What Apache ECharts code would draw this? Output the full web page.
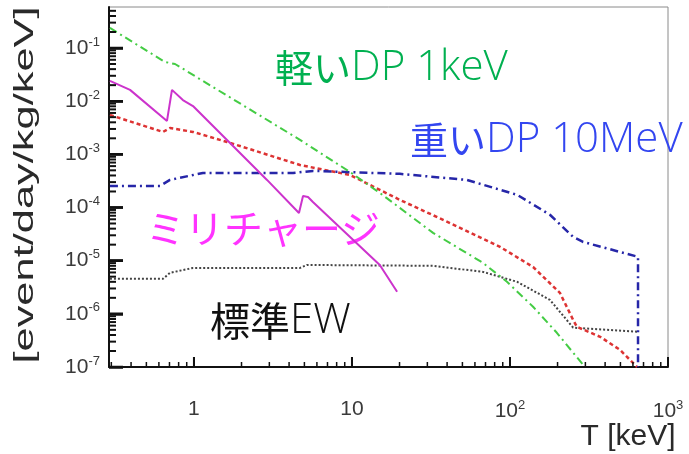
<!DOCTYPE html>
<html>
<head>
<meta charset="utf-8">
<script src="https://cdn.jsdelivr.net/npm/echarts@6/dist/echarts.min.js"></script>
<style>
  html, body { margin: 0; padding: 0; background: #ffffff; }
  #chart { width: 689px; height: 454px; }
</style>
</head>
<body>
<div id="chart"></div>
<script>
// Recoil spectra, T [keV] vs rate [event/day/kg/keV]
const lightDP_T = [0.294, 0.655, 0.759, 4.69, 9.70, 15.0, 32.6, 67.5, 95.7, 140, 198, 290];
const lightDP_R = [0.238, 0.0546, 0.050, 1.87e-3, 4.67e-4, 1.88e-4, 3.33e-5, 9.1e-6, 4.0e-6, 1.36e-6, 4.4e-7, 1.1e-7];

const redCurve_T = [0.294, 0.637, 0.705, 0.986, 1.62, 4.69, 9.70, 20.1, 41.7, 86.5, 140, 207, 251, 265, 372, 497, 637];
const redCurve_R = [5.5e-3, 2.64e-3, 3.13e-3, 2.64e-3, 1.71e-3, 6.3e-4, 4.1e-4, 1.39e-4, 5.1e-5, 1.82e-5, 7.6e-6, 2.48e-6, 7.7e-7, 5.7e-7, 3.7e-7, 2.1e-7, 1.0e-7];

const heavyDP_T = [0.294, 0.61, 0.705, 1.14, 4.24, 5.66, 20.1, 53.5, 111, 179, 251, 290, 646, 646];
const heavyDP_R = [2.55e-4, 2.55e-4, 3.3e-4, 4.47e-4, 4.47e-4, 4.88e-4, 4.29e-4, 3.3e-4, 1.73e-4, 7.3e-5, 2.8e-5, 2.25e-5, 1.18e-5, 1e-7];

const standardEW_T = [0.294, 0.637, 0.705, 0.986, 4.69, 5.19, 32.6, 67.5, 111, 179, 251, 646];
const standardEW_R = [4.55e-6, 4.55e-6, 5.9e-6, 7.3e-6, 7.3e-6, 8.3e-6, 8.0e-6, 6.15e-6, 4.0e-6, 1.83e-6, 5.5e-7, 4.6e-7];

const milliCharge_T = [0.294, 0.394, 0.675, 0.726, 0.851, 0.986, 2.90, 4.62, 4.90, 5.27, 5.66, 15.0, 19.3];
const milliCharge_R = [0.024, 0.0163, 4.25e-3, 0.0163, 0.0105, 8.1e-3, 3.3e-4, 7.9e-5, 1.65e-4, 1.58e-4, 1.27e-4, 8.3e-6, 2.6e-6];

// axis ranges and decade tick positions (as exponents)
const xRange = [0.29, 1000];
const yRange = [1e-7, 0.59];
const xDecades = [0, 1, 2, 3];          // 1, 10, 10^2, 10^3
const yDecades = [-7, -6, -5, -4, -3, -2, -1];

const lg = Math.log10;
const pairs = (T, R) => T.map((t, i) => [lg(t), lg(R[i])]);

// 2..9 sub-decade positions inside (lo, hi)
function minorTicks(lo, hi) {
  const out = [];
  for (let d = Math.floor(lo) - 1; d <= Math.ceil(hi); d++) {
    for (let k = 2; k <= 9; k++) {
      const v = d + lg(k);
      if (v > lo && v < hi) out.push(v);
    }
  }
  return out;
}

const xLo = lg(xRange[0]), xHi = lg(xRange[1]);
const yLo = lg(yRange[0]), yHi = lg(yRange[1]);

const GRID = { left: 109, top: 7, width: 559, height: 360 };
const xPerPx = (xHi - xLo) / GRID.width;
const yPerPx = (yHi - yLo) / GRID.height;

// inward tick marks: one short segment per tick
function tickSeries(values, dir, lenPx, width) {
  return values.map(v => ({
    type: 'line', showSymbol: false,
    lineStyle: { color: '#111111', width: width },
    data: dir === 'x'
      ? [[v, yLo], [v, yLo + lenPx * yPerPx]]
      : [[xLo, v], [xLo + lenPx * xPerPx, v]]
  }));
}

const labelFont = 'Liberation Sans, Arial, sans-serif';
const labelRich = {
  b: { fontSize: 21, color: '#3a3a3a', fontFamily: labelFont },
  s: { fontSize: 13, color: '#3a3a3a', fontFamily: labelFont, padding: [0, 0, 12, 0] }
};

const cjkFont = '"Noto Sans CJK JP"';
const latinFont = '"Open Sans"';

const chart = echarts.init(document.getElementById('chart'), null, { renderer: 'canvas' });

chart.setOption({
  animation: false,
  backgroundColor: '#ffffff',
  grid: Object.assign({ show: true, borderColor: '#8a8a8a', borderWidth: 1 }, GRID),
  xAxis: {
    type: 'value', min: xLo, max: xHi, position: 'bottom',
    splitLine: { show: false },
    axisLine: { show: true, onZero: false, lineStyle: { color: '#111', width: 2 } },
    axisTick: { show: true, inside: true, length: 10, customValues: xDecades, lineStyle: { color: '#111', width: 2 } },
    axisLabel: {
      show: true, margin: 32, customValues: xDecades, rich: labelRich,
      formatter: v => {
        const e = Math.round(v);
        if (e === 0) return '{b|1}';
        if (e === 1) return '{b|10}';
        return '{b|10}{s|' + e + '}';
      }
    }
  },
  yAxis: {
    type: 'value', min: yLo, max: yHi, position: 'left',
    splitLine: { show: false },
    axisLine: { show: true, onZero: false, lineStyle: { color: '#111', width: 2 } },
    axisTick: { show: true, inside: true, length: 14, customValues: yDecades, lineStyle: { color: '#111', width: 2.5 } },
    axisLabel: {
      show: true, margin: 9, customValues: yDecades, rich: labelRich,
      formatter: v => '{b|10}{s|' + Math.round(v) + '}'
    }
  },
  series: [
    {
      name: '標準EW', type: 'line', showSymbol: false, data: pairs(standardEW_T, standardEW_R),
      lineStyle: { color: '#444444', width: 2, type: [2, 2] }
    },
    {
      name: 'red', type: 'line', showSymbol: false, data: pairs(redCurve_T, redCurve_R),
      lineStyle: { color: '#dd3333', width: 2.5, type: [4, 3] }
    },
    {
      name: '重いDP 10MeV', type: 'line', showSymbol: false, data: pairs(heavyDP_T, heavyDP_R),
      lineStyle: { color: '#2626a8', width: 2.5, type: [8, 4, 2, 4] }
    },
    {
      name: '軽いDP 1keV', type: 'line', showSymbol: false, data: pairs(lightDP_T, lightDP_R),
      lineStyle: { color: '#44cc44', width: 2, type: [8, 4, 2, 4] }
    },
    {
      name: 'ミリチャージ', type: 'line', showSymbol: false, data: pairs(milliCharge_T, milliCharge_R),
      lineStyle: { color: '#cc33cc', width: 2 }
    }
  ].concat(
    tickSeries(xDecades, 'x', 10, 2),
    tickSeries(minorTicks(xLo, xHi), 'x', 5, 1.5),
    tickSeries(yDecades, 'y', 14, 2.5),
    tickSeries(minorTicks(yLo, yHi), 'y', 7, 2)
  ),
  graphic: [
    {
      type: 'text', x: 25, y: 185, rotation: Math.PI / 2, scaleX: 1.55,
      style: {
        text: '[event/day/kg/keV]', fontSize: 28, fill: '#2a2a2a',
        fontFamily: labelFont, align: 'center', verticalAlign: 'middle'
      }
    },
    {
      type: 'text', x: 628, y: 437,
      style: {
        text: 'T [keV]', fontSize: 30, fill: '#2a2a2a',
        fontFamily: labelFont, align: 'center', verticalAlign: 'middle'
      }
    },
    {
      type: 'text', x: 275, y: 68,
      style: {
        text: '{c|軽い}{l|DP 1keV}', fill: '#00b050', align: 'left', verticalAlign: 'middle',
        rich: {
          c: { fontSize: 38, fontFamily: cjkFont, fill: '#00b050' },
          l: { fontSize: 42, fontFamily: latinFont, fontWeight: 300, fill: '#00b050' }
        }
      }
    },
    {
      type: 'text', x: 410, y: 140,
      style: {
        text: '{c|重い}{l|DP 10MeV}', fill: '#3346f0', align: 'left', verticalAlign: 'middle',
        rich: {
          c: { fontSize: 38, fontFamily: cjkFont, fill: '#3346f0' },
          l: { fontSize: 42, fontFamily: latinFont, fontWeight: 300, fill: '#3346f0' }
        }
      }
    },
    {
      type: 'text', x: 146, y: 228,
      style: { text: 'ミリチャージ', fontSize: 39, fill: '#ff33ff', fontFamily: cjkFont, align: 'left', verticalAlign: 'middle' }
    },
    {
      type: 'text', x: 210, y: 321,
      style: {
        text: '{c|標準}{l|EW}', fill: '#111111', align: 'left', verticalAlign: 'middle',
        rich: {
          c: { fontSize: 40, fontFamily: cjkFont, fill: '#111111' },
          l: { fontSize: 42, fontFamily: latinFont, fontWeight: 300, fill: '#111111' }
        }
      }
    }
  ]
});
</script>
</body>
</html>
